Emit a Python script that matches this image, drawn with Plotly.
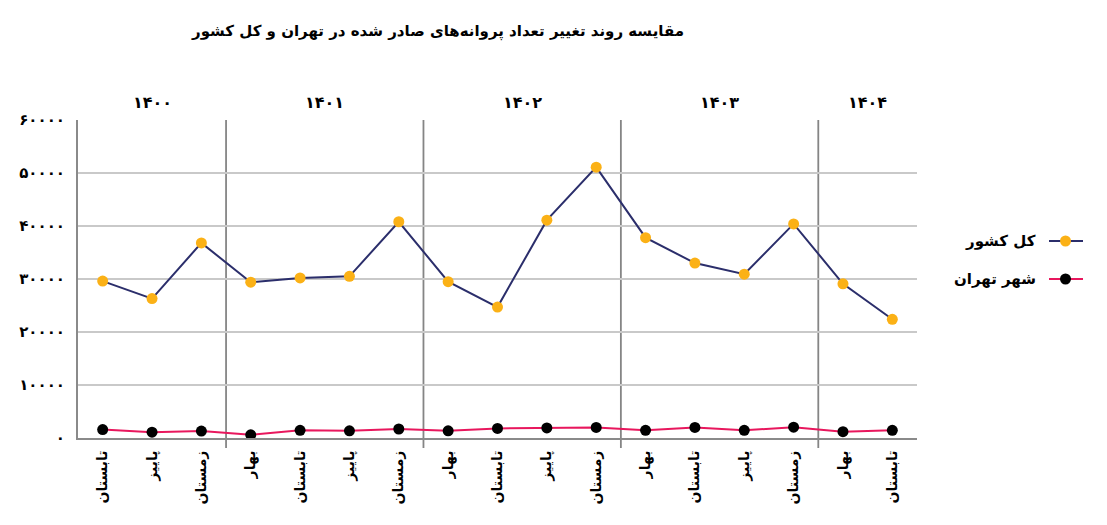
import plotly.graph_objects as go

# data
years = ['۱۴۰۰', '۱۴۰۱', '۱۴۰۲', '۱۴۰۳', '۱۴۰۴']
year_lengths = [3, 4, 4, 4, 2]   # number of seasons shown per year
seasons = ['تابستان', 'پاییز', 'زمستان',
           'بهار', 'تابستان', 'پاییز', 'زمستان',
           'بهار', 'تابستان', 'پاییز', 'زمستان',
           'بهار', 'تابستان', 'پاییز', 'زمستان',
           'بهار', 'تابستان']
country = [29600, 26300, 36800, 29400, 30200, 30500, 40800, 29500, 24700,
           41100, 51100, 37800, 33000, 30900, 40400, 29100, 22400]
tehran = [1600, 1100, 1300, 600, 1450, 1350, 1700, 1350, 1800,
          1900, 2000, 1450, 2000, 1450, 2050, 1200, 1450]
y_ticks = [0, 10000, 20000, 30000, 40000, 50000, 60000]
y_labels = ['۰', '۱۰۰۰۰', '۲۰۰۰۰', '۳۰۰۰۰', '۴۰۰۰۰', '۵۰۰۰۰', '۶۰۰۰۰']
series_names = ['کل کشور', 'شهر تهران']

FONT = 'DejaVu Sans'
NAVY = '#2b2e6b'
ORANGE = '#fbb116'
CRIMSON = '#e8175d'

# the page body has an 8px margin, so the figure is a bit smaller than the window
OFF = 8
W, H = 1107 - OFF, 525 - OFF
L, T, R, B = 78 - OFF, 120 - OFF, 917 - OFF, 438 - OFF   # plot area in figure px
PW, PH = R - L, B - T


def px_x(xp):  # window px -> paper x
    return (xp - OFF - L) / PW


def px_y(yp):  # window px -> paper y
    return (B - (yp - OFF)) / PH


x = list(range(len(seasons)))

fig = go.Figure()
fig.add_trace(go.Scatter(x=x, y=country, mode='lines+markers', name=series_names[0],
                         line=dict(color=NAVY, width=2),
                         marker=dict(color=ORANGE, size=11), showlegend=False))
fig.add_trace(go.Scatter(x=x, y=tehran, mode='lines+markers', name=series_names[1],
                         line=dict(color=CRIMSON, width=2),
                         marker=dict(color='black', size=11), showlegend=False))

# year separators and year labels
start = -0.5
for i, (yr, n) in enumerate(zip(years, year_lengths)):
    end = start + n
    if i < len(years) - 1:
        fig.add_shape(type='line', xref='x', yref='paper', x0=end, x1=end, y0=px_y(448), y1=1,
                      line=dict(color='#858585', width=1.8), layer='below')
    fig.add_annotation(x=(start + end) / 2, xref='x', y=px_y(103), yref='paper', text=yr,
                       showarrow=False, yanchor='middle',
                       font=dict(family=FONT, size=16, color='black', weight='bold'))
    start = end

# custom legend (symbol on the right, as in RTL)
leg = [(241, NAVY, ORANGE), (279, CRIMSON, 'black')]
for (py, lc, mc), name in zip(leg, series_names):
    fig.add_shape(type='line', xref='paper', yref='paper',
                  x0=px_x(1049), x1=px_x(1083), y0=px_y(py), y1=px_y(py),
                  line=dict(color=lc, width=2))
    fig.add_shape(type='circle', xref='paper', yref='paper', fillcolor=mc, line=dict(width=0),
                  x0=px_x(1060), x1=px_x(1071), y0=px_y(py + 5.5), y1=px_y(py - 5.5))
    fig.add_annotation(x=px_x(1038), xref='paper', y=px_y(py), yref='paper',
                       text=name, showarrow=False, xanchor='right', yanchor='middle',
                       font=dict(family=FONT, size=15, color='black', weight='bold'))

fig.update_layout(
    width=W, height=H,
    margin=dict(l=L, r=W - R, t=T, b=H - B),
    paper_bgcolor='white', plot_bgcolor='white',
    title=dict(text='مقایسه روند تغییر تعداد پروانه‌های صادر شده در تهران و کل کشور',
               x=(438 - OFF) / W, xanchor='center', y=1 - (31 - OFF) / H, yanchor='middle',
               font=dict(family=FONT, size=15, color='black', weight='bold')),
    font=dict(family=FONT, color='black'),
)
fig.update_xaxes(range=[-0.5, len(seasons) - 0.5], tickmode='array', tickvals=x, ticktext=seasons,
                 tickangle=-90, showgrid=False, zeroline=False,
                 showline=True, linecolor='#8a8a8a', linewidth=2,
                 ticks='outside', ticklen=5, tickcolor='rgba(0,0,0,0)',
                 tickfont=dict(family=FONT, size=14, color='black', weight='bold'))
fig.update_yaxes(range=[0, 60000], tickmode='array', tickvals=y_ticks, ticktext=y_labels,
                 showgrid=True, gridcolor='#c9c9c9', gridwidth=1.5, zeroline=False,
                 showline=True, linecolor='#8a8a8a', linewidth=2,
                 ticks='outside', ticklen=8, tickcolor='rgba(0,0,0,0)',
                 tickfont=dict(family=FONT, size=15, color='black', weight='bold'))

fig.write_html('out.html')
